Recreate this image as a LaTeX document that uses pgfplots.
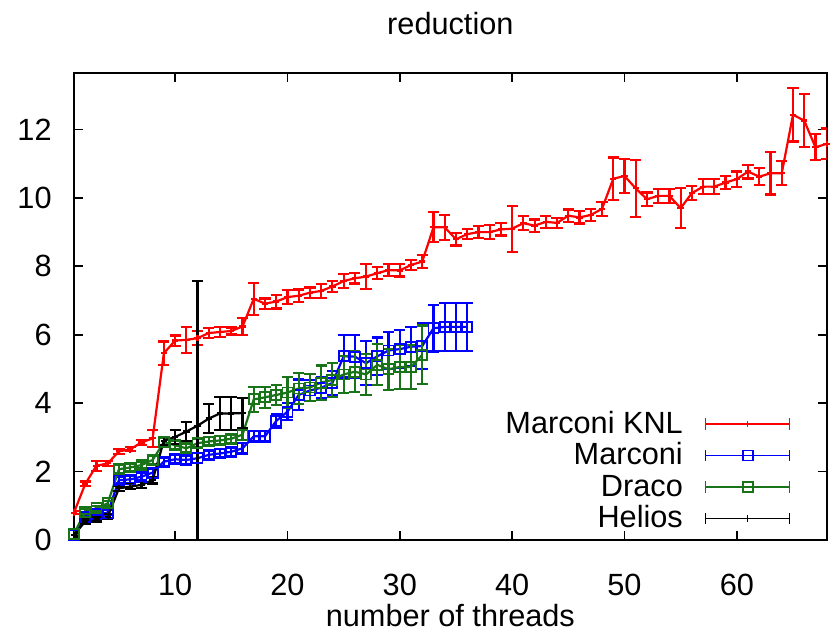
\documentclass[border=0pt]{standalone}
\usepackage{fontspec}
\setmainfont{Liberation Sans}
\usepackage{pgfplots}
\pgfplotsset{compat=1.18}
\usepackage{pgfplotstable}

\definecolor{knlred}{RGB}{255,0,0}
\definecolor{marblue}{RGB}{0,0,255}
\definecolor{dracogreen}{RGB}{25,115,25}

\pgfplotstableread{
x y e
1 0.80 0.05
2 1.64 0.07
3 2.17 0.15
4 2.24 0.07
5 2.59 0.07
6 2.65 0.06
7 2.85 0.08
8 2.97 0.25
9 5.46 0.34
10 5.83 0.15
11 5.85 0.38
12 5.90 0.20
13 6.05 0.15
14 6.08 0.15
15 6.11 0.10
16 6.24 0.24
17 7.05 0.47
18 6.91 0.15
19 6.97 0.20
20 7.10 0.20
21 7.14 0.18
22 7.23 0.15
23 7.28 0.20
24 7.41 0.15
25 7.57 0.20
26 7.65 0.15
27 7.70 0.37
28 7.80 0.18
29 7.89 0.18
30 7.88 0.18
31 8.04 0.15
32 8.14 0.18
33 9.14 0.44
34 9.14 0.37
35 8.79 0.18
36 8.94 0.15
37 9.00 0.18
38 9.00 0.20
39 9.08 0.18
40 9.10 0.67
41 9.26 0.20
42 9.19 0.18
43 9.30 0.18
44 9.27 0.15
45 9.48 0.18
46 9.43 0.18
47 9.50 0.18
48 9.68 0.20
49 10.56 0.62
50 10.64 0.49
51 10.28 0.83
52 9.96 0.20
53 10.06 0.20
54 10.06 0.20
55 9.70 0.58
56 10.14 0.20
57 10.33 0.22
58 10.33 0.22
59 10.45 0.20
60 10.55 0.22
61 10.77 0.20
62 10.62 0.25
63 10.72 0.62
64 10.72 0.35
65 12.43 0.78
66 12.26 0.78
67 11.48 0.38
68 11.58 0.45
}\knl

\pgfplotstableread{
x y e
1 0.15 0.05
2 0.68 0.06
3 0.75 0.06
4 0.80 0.07
5 1.75 0.10
6 1.77 0.10
7 1.85 0.10
8 1.97 0.12
9 2.29 0.12
10 2.36 0.12
11 2.34 0.12
12 2.39 0.15
13 2.49 0.12
14 2.53 0.12
15 2.58 0.12
16 2.68 0.15
17 3.03 0.15
18 3.03 0.15
19 3.48 0.20
20 3.75 0.25
21 4.24 0.45
22 4.37 0.30
23 4.45 0.30
24 4.59 0.35
25 5.37 0.62
26 5.36 0.63
27 5.17 0.65
28 5.37 0.55
29 5.54 0.55
30 5.58 0.55
31 5.65 0.57
32 5.67 0.68
33 6.19 0.68
34 6.23 0.70
35 6.23 0.70
36 6.23 0.70
}\marconi

\pgfplotstableread{
x y e
1 0.18 0.05
2 0.83 0.07
3 0.93 0.07
4 1.07 0.08
5 2.07 0.12
6 2.12 0.10
7 2.19 0.10
8 2.34 0.12
9 2.86 0.12
10 2.77 0.12
11 2.68 0.12
12 2.83 0.12
13 2.88 0.12
14 2.91 0.12
15 2.96 0.12
16 3.08 0.15
17 4.11 0.37
18 4.17 0.30
19 4.24 0.30
20 4.31 0.45
21 4.43 0.45
22 4.46 0.40
23 4.60 0.50
24 4.68 0.50
25 4.84 0.55
26 4.92 0.60
27 4.84 0.60
28 5.12 0.60
29 4.99 0.60
30 5.06 0.64
31 5.06 0.64
32 5.41 0.86
}\draco

\pgfplotstableread{
x y e
1 0.15 0.05
2 0.54 0.06
3 0.60 0.06
4 0.68 0.07
5 1.51 0.08
6 1.56 0.08
7 1.61 0.08
8 1.75 0.10
9 2.90 0.12
10 3.01 0.20
11 3.17 0.27
12 3.34 4.23
13 3.55 0.42
14 3.70 0.49
15 3.70 0.49
16 3.71 0.44
}\helios

\begin{document}
\begin{tikzpicture}[font=\fontsize{15.4}{16}\selectfont]
\useasboundingbox (-37bp,-46bp) rectangle (379.5bp,270bp);
\begin{axis}[
  scale only axis,
  width=376.35bp, height=233.65bp,
  xmin=1, xmax=68, ymin=0, ymax=13.66,
  xtick={10,20,...,60}, ytick={0,2,...,12},
  tick align=inside,
  major tick length=4.5bp,
  axis line style={line width=0.9bp},
  every tick/.style={black, line width=0.9bp},
  /pgf/number format/assume math mode=true,
  tick label style={font=\fontsize{15.4}{16}\selectfont},
  xticklabel style={anchor=base, yshift=-27.5bp},
  yticklabel style={anchor=east, inner sep=0pt, xshift=-11bp},
  title={reduction},
  title style={at={(axis description cs:0.5,1)}, anchor=base, yshift=13bp},
  xlabel={number of threads},
  xlabel style={at={(axis description cs:0.5,0)}, anchor=base, yshift=-43bp},
  legend plot pos=right,
  legend cell align=right,
  legend style={draw=none, fill=none, at={(axis description cs:0.9603,0.0086)},
    anchor=south east, row sep=2.75bp, column sep=11bp,
    nodes={inner sep=0pt, text height=11bp, text depth=2bp}},
  legend image code/.code={
    \draw[#1, line width=0.8bp] (0bp,0bp) -- (42bp,0bp);
    \draw[#1, line width=0.8bp] (0bp,-2.8bp) -- (0bp,2.8bp) (42bp,-2.8bp) -- (42bp,2.8bp);
    \draw[#1, line width=0.8bp, only marks] plot coordinates {(21bp,0bp)};
  },
  every axis plot/.append style={line width=1.1bp},
  error bars/error bar style={line width=1.1bp},
  error bars/error mark options={rotate=90, mark size=2.8bp, line width=1.1bp},
]
\addplot[knlred, mark=+, mark size=1.6bp, mark options={solid},
  error bars/.cd, y dir=both, y explicit]
  table[x=x, y=y, y error=e] {\knl};
\addlegendentry{Marconi KNL}
\addplot[marblue, mark=square, mark size=2.5bp, mark options={solid, line width=0.9bp},
  error bars/.cd, y dir=both, y explicit]
  table[x=x, y=y, y error=e] {\marconi};
\addlegendentry{Marconi}
\addplot[dracogreen, mark=square, mark size=2.5bp, mark options={solid, line width=0.9bp},
  error bars/.cd, y dir=both, y explicit]
  table[x=x, y=y, y error=e] {\draco};
\addlegendentry{Draco}
\addplot[black, mark=+, mark size=1.6bp, mark options={solid},
  error bars/.cd, y dir=both, y explicit]
  table[x=x, y=y, y error=e] {\helios};
\addlegendentry{Helios}
\end{axis}
\end{tikzpicture}
\end{document}
